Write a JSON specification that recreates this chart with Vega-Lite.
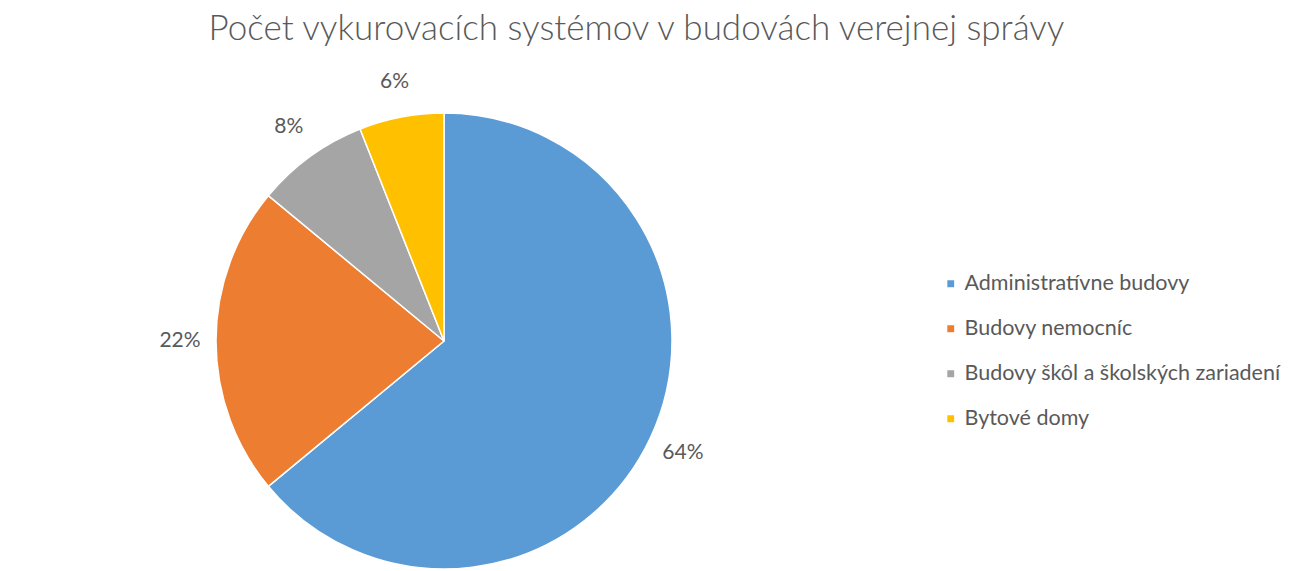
{
  "$schema": "https://vega.github.io/schema/vega-lite/v6.json",
  "width": 888,
  "height": 500,
  "autosize": {"type": "pad"},
  "padding": {"left": 0, "right": 0, "top": 11, "bottom": 0},
  "background": "white",
  "title": {
    "text": "Počet vykurovacích systémov v budovách verejnej správy",
    "font": "Lato",
    "fontSize": 35,
    "fontWeight": 300,
    "color": "#595959",
    "anchor": "middle",
    "frame": "bounds",
    "dx": -4,
    "offset": 24
  },
  "data": {
    "values": [
      {"kategoria": "Administratívne budovy", "podiel": 0.64, "poradie": 1},
      {"kategoria": "Budovy nemocníc", "podiel": 0.22, "poradie": 2},
      {"kategoria": "Budovy škôl a školských zariadení", "podiel": 0.08, "poradie": 3},
      {"kategoria": "Bytové domy", "podiel": 0.06, "poradie": 4}
    ]
  },
  "encoding": {
    "theta": {"field": "podiel", "type": "quantitative", "stack": true},
    "order": {"field": "poradie", "type": "quantitative"},
    "color": {
      "field": "kategoria",
      "type": "nominal",
      "scale": {
        "domain": ["Administratívne budovy", "Budovy nemocníc", "Budovy škôl a školských zariadení", "Bytové domy"],
        "range": ["#5B9BD5", "#ED7D31", "#A5A5A5", "#FFC000"]
      },
      "legend": {
        "title": null,
        "orient": "none",
        "legendX": 940,
        "legendY": 182,
        "symbolType": "square",
        "symbolSize": 70,
        "labelFont": "Lato",
        "labelFontSize": 21.5,
        "labelColor": "#595959",
        "labelLimit": 0,
        "rowPadding": 22,
        "labelOffset": 3
      }
    }
  },
  "layer": [
    {
      "mark": {"type": "arc", "outerRadius": 228, "stroke": "white", "strokeWidth": 1.5}
    },
    {
      "mark": {"type": "text", "radius": 264, "font": "Lato", "fontSize": 21, "fill": "#595959"},
      "encoding": {
        "text": {"field": "podiel", "type": "quantitative", "format": ".0%"},
        "color": {"value": "#595959"}
      }
    }
  ],
  "config": {"view": {"stroke": null}}
}
